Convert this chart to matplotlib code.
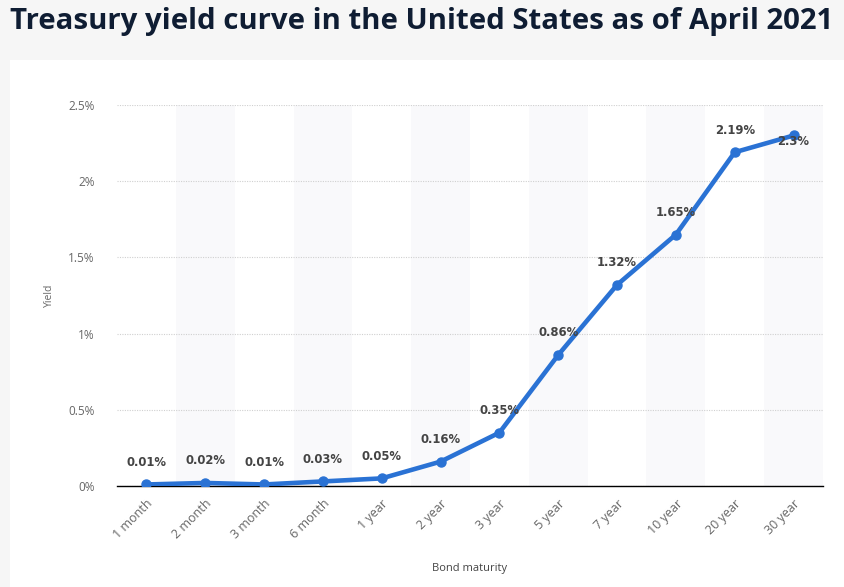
import matplotlib
matplotlib.use("Agg")
import matplotlib.pyplot as plt
from matplotlib.patches import Rectangle
from matplotlib.ticker import FixedLocator

categories = ["1 month", "2 month", "3 month", "6 month", "1 year", "2 year",
              "3 year", "5 year", "7 year", "10 year", "20 year", "30 year"]
yields = [0.01, 0.02, 0.01, 0.03, 0.05, 0.16, 0.35, 0.86, 1.32, 1.65, 2.19, 2.3]
labels = ["0.01%", "0.02%", "0.01%", "0.03%", "0.05%", "0.16%", "0.35%",
          "0.86%", "1.32%", "1.65%", "2.19%", "2.3%"]
yticks = [0, 0.5, 1, 1.5, 2, 2.5]
ytick_labels = ["0%", "0.5%", "1%", "1.5%", "2%", "2.5%"]

W, H = 845, 587
fig = plt.figure(figsize=(W / 100, H / 100), dpi=100)
fig.patch.set_facecolor("#f6f6f6")

# white card
fig.patches.append(Rectangle((10 / W, 0), 1, 1 - 60 / H, transform=fig.transFigure,
                             facecolor="white", edgecolor="none", zorder=-5))

fig.text(10 / W, 1 - 22 / H, "Treasury yield curve in the United States as of April 2021",
         fontsize=21.2, fontweight="bold", color="#0f1d33", family="Open Sans",
         va="center", ha="left")

ax = fig.add_axes([117 / W, 1 - 486 / H, (823 - 117) / W, (486 - 105) / H])
ax.set_zorder(2)
ax.set_facecolor("white")
n = len(categories)
x = list(range(n))
ax.set_xlim(-0.5, n - 0.5)
ax.set_ylim(0, 2.5)

for i in x:
    if i % 2 == 1:
        ax.axvspan(i - 0.5, i + 0.5, color="#f9f9fb", zorder=0, lw=0)

ax.yaxis.set_major_locator(FixedLocator(yticks))
ax.set_yticklabels(ytick_labels)
ax.grid(axis="y", color="#d0d0d0", linestyle=(0, (1, 1.2)), linewidth=0.8, zorder=1)
for s in ["top", "right", "left"]:
    ax.spines[s].set_visible(False)
ax.spines["bottom"].set_color("#000000")
ax.spines["bottom"].set_linewidth(1.0)
ax.spines["bottom"].set_zorder(2)

ax.set_xticks(x)
ax.set_xticklabels(categories, rotation=45, ha="right", rotation_mode="anchor",
                   fontsize=9, color="#666666", family="Open Sans")
ax.tick_params(axis="x", length=0, pad=8)
ax.tick_params(axis="y", length=0, pad=16, labelsize=8.5, labelcolor="#666666")
for t in ax.get_yticklabels():
    t.set_family("Open Sans")

ax.plot(x, yields, color="#2a72d4", linewidth=3.3, marker="o", markersize=6.5,
        zorder=3, solid_capstyle="round")

for xi, yi, lab in zip(x, yields, labels):
    off = -4 if lab == "2.3%" else 16
    ax.annotate(lab, (xi, yi), xytext=(0, off), textcoords="offset points",
                ha="center", va="center", fontsize=8.4, fontweight="bold", color="#444444",
                family="DejaVu Sans", zorder=4)

ax.set_ylabel("Yield", fontsize=7.5, color="#666666", family="Open Sans")
ax.yaxis.set_label_coords((55 - 117) / (823 - 117), 0.5)
ax.set_xlabel("Bond maturity", fontsize=8, color="#444444", family="Open Sans")
ax.xaxis.set_label_coords((470 - 117) / (823 - 117), -(563 - 486) / (486 - 105))

fig.savefig("out.png", dpi=100, facecolor=fig.get_facecolor())
